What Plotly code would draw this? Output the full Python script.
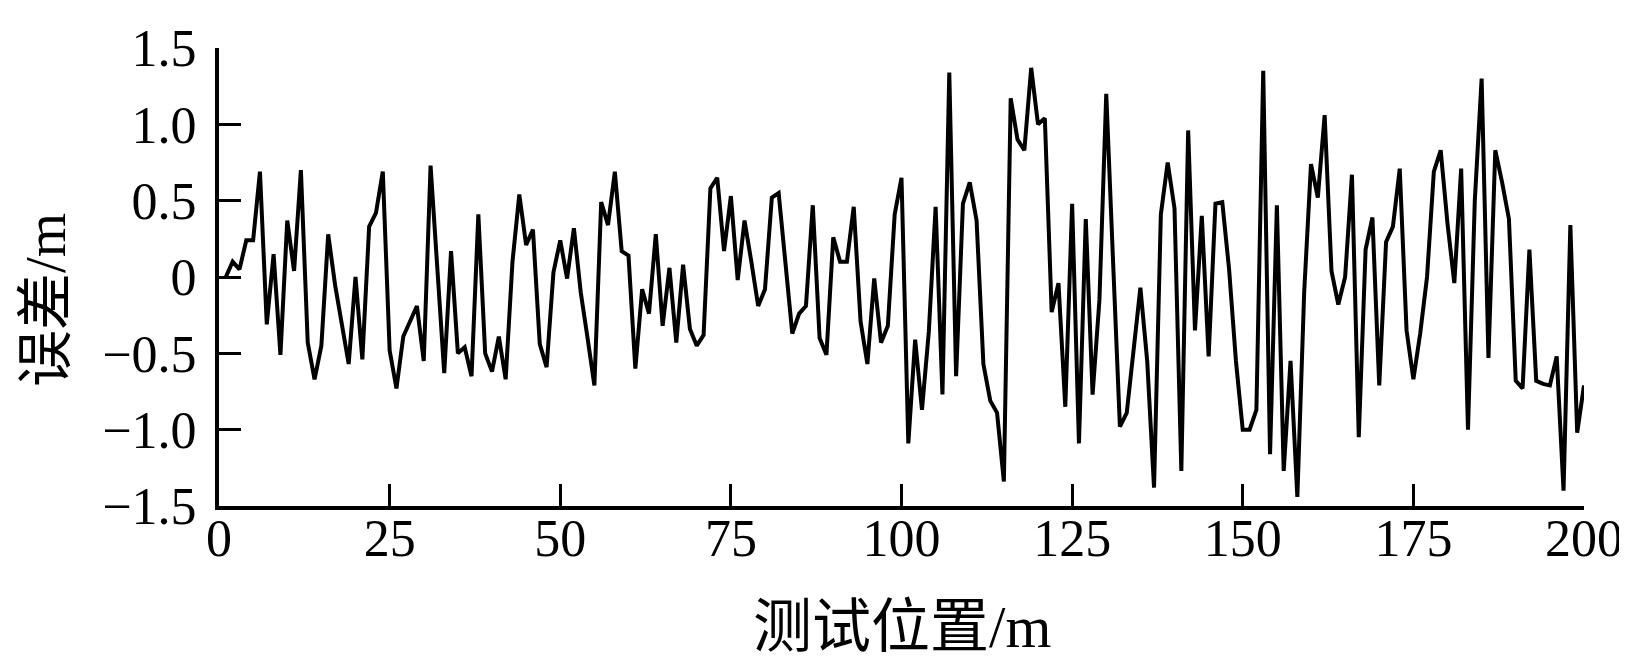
import plotly.graph_objects as go

positions = list(range(1, 201))
errors = [
    0.00, 0.10, 0.05, 0.24, 0.24, 0.69, -0.31, 0.15, -0.51, 0.37,
    0.04, 0.70, -0.43, -0.67, -0.45, 0.28, -0.05, -0.30, -0.57, 0.00,
    -0.54, 0.33, 0.42, 0.69, -0.48, -0.73, -0.39, -0.29, -0.19, -0.55,
    0.73, 0.05, -0.63, 0.17, -0.50, -0.46, -0.65, 0.41, -0.50, -0.62,
    -0.39, -0.67, 0.10, 0.54, 0.21, 0.31, -0.44, -0.59, 0.03, 0.24,
    -0.01, 0.32, -0.10, -0.40, -0.71, 0.49, 0.34, 0.69, 0.17, 0.14,
    -0.60, -0.08, -0.24, 0.28, -0.32, 0.06, -0.43, 0.08, -0.34, -0.45,
    -0.38, 0.58, 0.65, 0.17, 0.53, -0.02, 0.37, 0.10, -0.19, -0.08,
    0.52, 0.55, 0.10, -0.37, -0.24, -0.19, 0.47, -0.40, -0.51, 0.26,
    0.10, 0.10, 0.46, -0.29, -0.57, -0.01, -0.43, -0.32, 0.41, 0.65,
    -1.09, -0.41, -0.87, -0.36, 0.46, -0.77, 1.34, -0.65, 0.48, 0.62,
    0.37, -0.57, -0.81, -0.89, -1.34, 1.17, 0.90, 0.83, 1.37, 1.00,
    1.04, -0.23, -0.04, -0.85, 0.48, -1.09, 0.38, -0.77, -0.15, 1.20,
    0.10, -0.98, -0.89, -0.50, -0.07, -0.55, -1.38, 0.41, 0.75, 0.45,
    -1.27, 0.96, -0.35, 0.40, -0.52, 0.48, 0.49, 0.05, -0.55, -1.00,
    -1.00, -0.87, 1.35, -1.16, 0.47, -1.27, -0.55, -1.44, -0.10, 0.74,
    0.52, 1.06, 0.04, -0.18, 0.00, 0.67, -1.05, 0.18, 0.39, -0.71,
    0.23, 0.33, 0.71, -0.35, -0.67, -0.37, 0.00, 0.69, 0.83, 0.35,
    -0.04, 0.71, -1.00, 0.50, 1.30, -0.53, 0.83, 0.62, 0.38, -0.68,
    -0.73, 0.18, -0.68, -0.70, -0.71, -0.52, -1.40, 0.34, -1.02, -0.71,
]

x_ticks = [0, 25, 50, 75, 100, 125, 150, 175, 200]
y_ticks = [-1.5, -1.0, -0.5, 0, 0.5, 1.0, 1.5]
y_tick_text = ["\u22121.5", "\u22121.0", "\u22120.5", "0", "0.5", "1.0", "1.5"]
x_title = "测试位置/m"
y_title = "误差/m"

FONT = "Liberation Serif, Times New Roman, Noto Sans CJK SC, serif"

fig = go.Figure()
fig.add_trace(go.Scatter(
    x=positions, y=errors, mode="lines",
    line=dict(color="black", width=4), showlegend=False,
))

axis_common = dict(
    showline=True, linecolor="black", linewidth=4,
    ticks="inside", ticklen=22, tickwidth=3, tickcolor="black",
    showgrid=False, zeroline=False, mirror=False,
    tickfont=dict(family=FONT, size=52, color="black"),
)
fig.update_xaxes(range=[0, 200], tickvals=x_ticks, ticktext=[str(v) for v in x_ticks],
                 ticklabelstandoff=-16, **axis_common)
fig.update_yaxes(range=[-1.5, 1.5], tickvals=y_ticks, ticktext=y_tick_text,
                 ticklabelstandoff=8, **axis_common)

fig.add_annotation(text=x_title, xref="paper", yref="paper", x=0.5, y=-0.265,
                   xanchor="center", yanchor="middle", showarrow=False,
                   font=dict(family=FONT, size=59, color="black"))
fig.add_annotation(text=y_title, xref="paper", yref="paper", x=-0.127, y=0.449,
                   xanchor="center", yanchor="middle", showarrow=False, textangle=-90,
                   font=dict(family=FONT, size=57, color="black"))

fig.update_layout(
    width=1627, height=660,
    margin=dict(l=211, r=49, t=30, b=162),
    paper_bgcolor="white", plot_bgcolor="white",
)
fig.write_html("out.html")
